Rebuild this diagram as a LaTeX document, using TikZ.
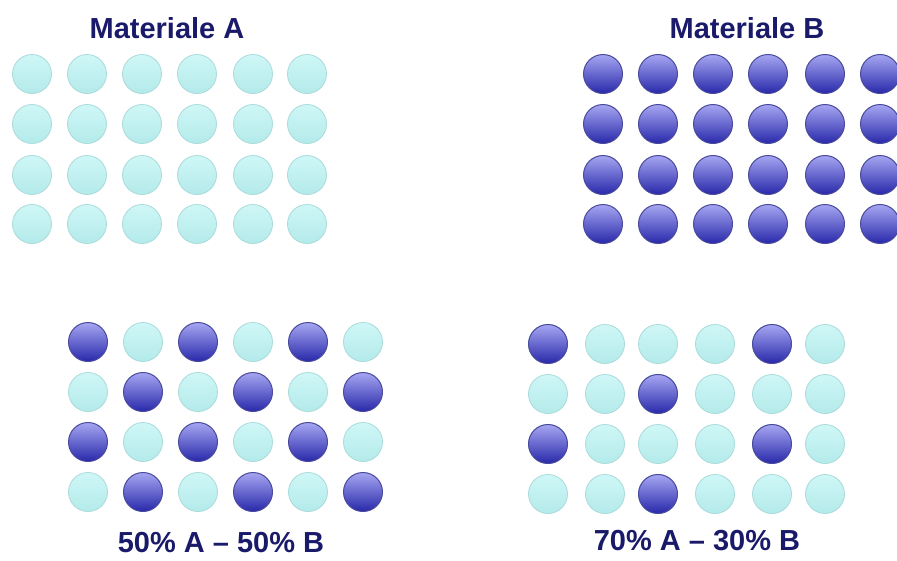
\documentclass[tikz,border=0pt]{standalone}
\usepackage{fontspec}
\setmainfont{Liberation Sans}
\definecolor{navy}{HTML}{1A1A6A}
\definecolor{lighttop}{HTML}{CFF7F7}
\definecolor{lightbot}{HTML}{B4EAEA}
\definecolor{lightrim}{HTML}{A9DADA}
\definecolor{darktop}{HTML}{A6A6F2}
\definecolor{darkmid}{HTML}{7272DA}
\definecolor{darkbot}{HTML}{2828AA}
\definecolor{darkrim}{HTML}{4A4A9C}
\begin{document}
\begin{tikzpicture}[x=1pt,y=-1pt,
  atomA/.style={circle,minimum size=39pt,inner sep=0pt,top color=lighttop,bottom color=lightbot,draw=lightrim,line width=0.8pt},
  atomB/.style={circle,minimum size=39pt,inner sep=0pt,top color=darktop,middle color=darkmid,bottom color=darkbot,draw=darkrim,line width=1pt},
  titletext/.style={font=\fontsize{29}{33}\selectfont\bfseries,text=navy,inner sep=0pt}]
\path[use as bounding box] (0,0) rectangle (897,560);
% titles
\node[titletext] (tA) at (167,28) {Materiale A};
\node[titletext] (tB) at (747,28) {Materiale B};
\node[titletext] (t50) at (221,543) {50\% A – 50\% B};
\node[titletext] (t70) at (697,541) {70\% A – 30\% B};
% grid A
\foreach \x [count=\i] in {32,87,142,197,253,307}{
  \foreach \y [count=\j] in {74,124,175,224}{
    \node[atomA] (a-\i-\j) at (\x,\y) {};
  }
}
% grid B
\foreach \x [count=\i] in {603,658,713,768,825,880}{
  \foreach \y [count=\j] in {74,124,175,224}{
    \node[atomB] (b-\i-\j) at (\x,\y) {};
  }
}
% grid 50/50
\foreach \x [count=\i] in {88,143,198,253,308,363}{
  \foreach \y [count=\j] in {342,392,442,492}{
    \pgfmathtruncatemacro{\myparity}{mod(\i+\j,2)}
    \ifnum\myparity=0
      \node[atomB] (m-\i-\j) at (\x,\y) {};
    \else
      \node[atomA] (m-\i-\j) at (\x,\y) {};
    \fi
  }
}
% grid 70/30
\foreach \x [count=\i] in {548,605,658,715,772,825}{
  \foreach \y [count=\j] in {344,394,444,494}{
    \node[atomA] (n-\i-\j) at (\x,\y) {};
  }
}
\foreach \i/\j in {1/1,5/1,3/2,1/3,5/3,3/4}{
  \node[atomB] at (n-\i-\j) {};
}
\end{tikzpicture}
\end{document}
